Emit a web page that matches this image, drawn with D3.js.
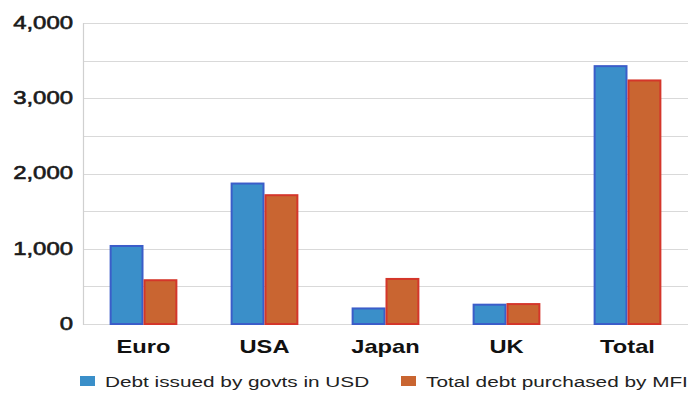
<!DOCTYPE html>
<html><head><meta charset="utf-8">
<script src="https://cdn.jsdelivr.net/npm/d3@7"></script>
<style>body{margin:0;background:#fff}svg{display:block}</style>
</head><body><svg id="c" width="696" height="394"></svg>
<script>
const categories = ["Euro", "USA", "Japan", "UK", "Total"];
const seriesNames = ["Debt issued by govts in USD", "Total debt purchased by MFI"];
const issued = [1050, 1880, 220, 270, 3440];
const purchased = [595, 1725, 612, 278, 3250];
const yTicks = [0, 1000, 2000, 3000, 4000];
const gridTicks = [0, 500, 1000, 1500, 2000, 2500, 3000, 3500, 4000];

const fills = ["#3a8fc9", "#c96531"];
const strokes = ["#3b5dc9", "#d4362a"];

const svg = d3.select("#c");
const L = 83, R = 688, T = 23, B = 324;
const x = d3.scaleBand().domain(categories).range([L, R]).paddingInner(0.44).paddingOuter(0.22);
const x1 = d3.scaleBand().domain([0, 1]).range([0, x.bandwidth()]);
const y = d3.scaleLinear().domain([0, 4000]).range([B, T]);
const FONT = "Liberation Sans, Arial, sans-serif";

// grid
svg.append("g").selectAll("line").data(gridTicks).join("line")
  .attr("x1", L).attr("x2", R)
  .attr("y1", d => Math.round(y(d)) + 0.5).attr("y2", d => Math.round(y(d)) + 0.5)
  .attr("stroke", "#d9d9d9").attr("stroke-width", 1.2);

// left axis line
svg.append("line").attr("x1", L + 0.5).attr("x2", L + 0.5).attr("y1", T).attr("y2", B + 1)
  .attr("stroke", "#d0d0d0").attr("stroke-width", 1.2);

// y tick labels
const yAxis = svg.append("g").attr("transform", `translate(${L - 10},0)`)
  .call(d3.axisLeft(y).tickValues(yTicks).tickSize(0).tickFormat(d3.format(",")));
yAxis.select(".domain").remove();
yAxis.selectAll("text")
  .attr("x", 0).attr("dy", "0.3em")
  .attr("transform", "scale(1.33,1)")
  .style("font-family", FONT)
  .style("font-size", "18px").attr("fill", "#1a1a1a")
  .attr("stroke", "#1a1a1a").attr("stroke-width", 0.6);

// bars
const groups = svg.append("g").selectAll("g").data(categories).join("g")
  .attr("transform", d => `translate(${x(d)},0)`);
groups.each(function(c, i) {
  const vals = [issued[i], purchased[i]];
  d3.select(this).selectAll("rect").data(vals).join("rect")
    .attr("x", (v, j) => x1(j) + 1)
    .attr("y", v => y(v) + 1)
    .attr("width", x1.bandwidth() - 2)
    .attr("height", v => B - y(v) - 1)
    .attr("fill", (v, j) => fills[j])
    .attr("stroke", (v, j) => strokes[j])
    .attr("stroke-width", 2);
});

// x labels
const xAxis = svg.append("g").attr("transform", `translate(0,${B})`)
  .call(d3.axisBottom(x).tickSize(0));
xAxis.select(".domain").remove();
xAxis.selectAll(".tick text")
  .attr("y", 0).attr("dy", 0)
  .attr("transform", "translate(0,29) scale(1.28,1)")
  .style("font-family", FONT)
  .style("font-size", "18.5px").style("font-weight", "bold").attr("fill", "#111");

// legend
const legX = [80, 401];
const leg = svg.append("g").selectAll("g").data(seriesNames).join("g")
  .attr("transform", (d, i) => `translate(${legX[i]},376)`);
leg.append("rect").attr("width", 15).attr("height", 10).attr("fill", (d, i) => fills[i]);
leg.append("text").attr("transform", "translate(25,11) scale(1.34,1)")
  .text(d => d)
  .style("font-family", FONT)
  .style("font-size", "15.5px").attr("fill", "#222");
</script>
</body></html>
